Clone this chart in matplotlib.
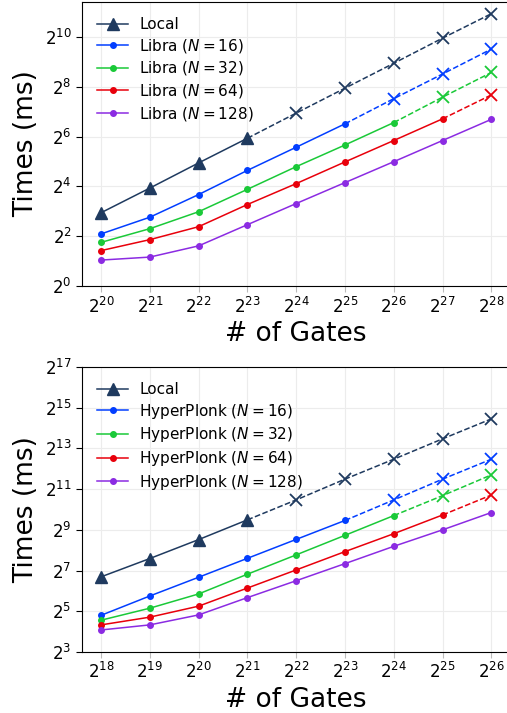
import matplotlib.pyplot as plt
import numpy as np

# exponents (log2) of gate counts
gates_top = [20, 21, 22, 23, 24, 25, 26, 27, 28]
gates_bot = [18, 19, 20, 21, 22, 23, 24, 25, 26]

# log2 of times (ms)
local_top = [2.94, 3.93, 4.94, 5.93, 6.94, 7.94, 8.94, 9.95, 10.93]
libra_16 = [2.09, 2.76, 3.67, 4.64, 5.57, 6.51, 7.52, 8.51, 9.51]
libra_32 = [1.75, 2.30, 2.98, 3.88, 4.79, 5.66, 6.56, 7.58, 8.57]
libra_64 = [1.42, 1.86, 2.38, 3.27, 4.11, 4.98, 5.84, 6.71, 7.67]
libra_128 = [1.04, 1.16, 1.61, 2.46, 3.31, 4.15, 4.99, 5.84, 6.69]

local_bot = [6.69, 7.59, 8.52, 9.49, 10.47, 11.49, 12.47, 13.47, 14.45]
hp_16 = [4.80, 5.75, 6.67, 7.60, 8.53, 9.46, 10.47, 11.49, 12.47]
hp_32 = [4.56, 5.15, 5.85, 6.82, 7.77, 8.73, 9.70, 10.68, 11.70]
hp_64 = [4.33, 4.71, 5.25, 6.14, 7.03, 7.93, 8.81, 9.73, 10.71]
hp_128 = [4.08, 4.33, 4.82, 5.67, 6.50, 7.34, 8.19, 9.00, 9.85]

# index of the last measured point (after it: estimated, dashed + x)
measured_top = [3, 5, 6, 7, 8]
measured_bot = [3, 5, 6, 7, 8]

colors = ['#1f3a5f', '#023eff', '#1ac938', '#e8000b', '#8b2be2']
Ns = [16, 32, 64, 128]

plt.rcParams['font.family'] = 'DejaVu Sans'
plt.rcParams['mathtext.fontset'] = 'dejavusans'

fig = plt.figure(figsize=(5.07, 7.13), dpi=100)
ax1 = fig.add_axes([0.1617, 0.5989, 0.845, 0.3983])
ax2 = fig.add_axes([0.1617, 0.0856, 0.845, 0.3997])


def draw(ax, gates, series, labels, measured, ylim, yticks):
    x = 2.0 ** np.array(gates)
    for i, (vals, lab, last) in enumerate(zip(series, labels, measured)):
        y = 2.0 ** np.array(vals)
        c = colors[i]
        mk = '^' if i == 0 else 'o'
        ms = 8 if i == 0 else 4
        ax.plot(x[:last + 1], y[:last + 1], color=c, marker=mk, markersize=ms,
                lw=1.1, label=lab, zorder=3)
        if last < len(x) - 1:
            ax.plot(x[last:], y[last:], color=c, ls='--', lw=1.1, zorder=3)
            ax.plot(x[last + 1:], y[last + 1:], color=c, ls='none', marker='x',
                    markersize=9, mew=1.3, zorder=3)
    ax.set_xscale('log', base=2)
    ax.set_yscale('log', base=2)
    ax.set_xlim(2 ** (gates[0] - 0.39), 2 ** (gates[-1] + 0.39))
    ax.set_ylim(2 ** ylim[0], 2 ** ylim[1])
    ax.set_xticks(x)
    ax.set_xticks([], minor=True)
    ax.set_yticks([2.0 ** t for t in yticks])
    ax.set_yticks([], minor=True)
    ax.grid(True, color='#ececec', lw=0.8, zorder=0)
    ax.tick_params(labelsize=12, color='#bbbbbb', length=4)
    ax.tick_params(axis='y', color='black', length=4)
    ax.spines['right'].set_visible(False)
    ax.set_xlabel('# of Gates', fontsize=19, labelpad=3)
    ax.set_ylabel('Times (ms)', fontsize=19, labelpad=4)
    ax.legend(loc='upper left', frameon=False, fontsize=11, handlelength=2.0,
              borderaxespad=0.6, labelspacing=0.3, handletextpad=0.75)


draw(ax1, gates_top, [local_top, libra_16, libra_32, libra_64, libra_128],
     ['Local'] + ['Libra ($N = %d$)' % n for n in Ns],
     measured_top, (0, 11.4), [0, 2, 4, 6, 8, 10])
draw(ax2, gates_bot, [local_bot, hp_16, hp_32, hp_64, hp_128],
     ['Local'] + ['HyperPlonk ($N = %d$)' % n for n in Ns],
     measured_bot, (3, 17), [3, 5, 7, 9, 11, 13, 15, 17])

fig.savefig('out.png', dpi=100)
